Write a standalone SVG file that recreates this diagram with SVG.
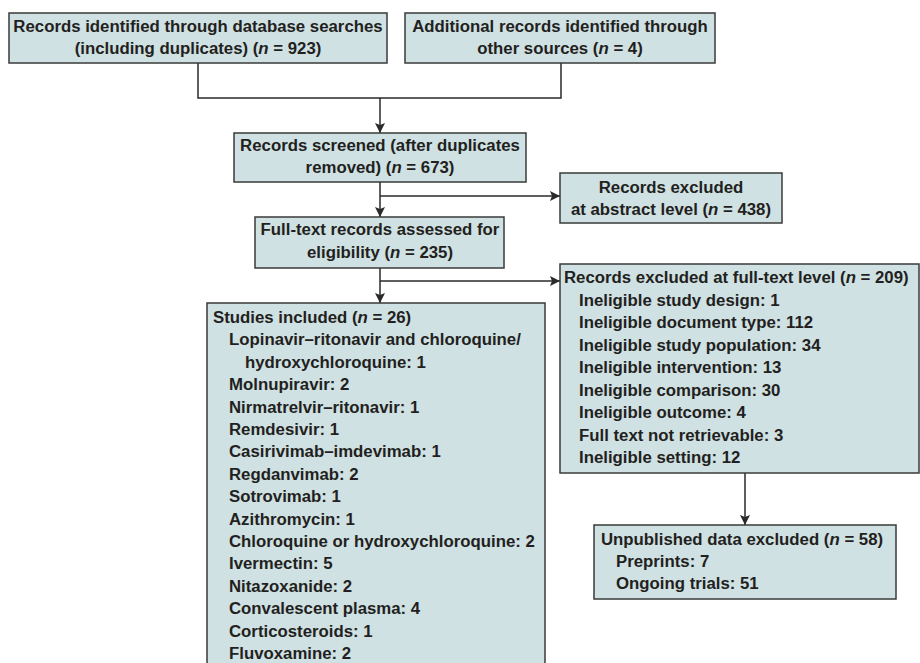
<svg xmlns="http://www.w3.org/2000/svg" width="920" height="663" viewBox="0 0 920 663">
<defs>
<style>
.box{fill:#cfe1e3;stroke:#3a3a3a;stroke-width:1.5}
.t{font-family:"Liberation Sans",Arial,sans-serif;font-weight:bold;font-size:16.8px;fill:#231f20}
.c{text-anchor:middle}
.i{font-style:italic}
.ln{fill:none;stroke:#2a2a2a;stroke-width:1.5}
</style>
<marker id="ah" viewBox="0 0 10 10" refX="10" refY="5" markerWidth="10" markerHeight="10" markerUnits="userSpaceOnUse" orient="auto">
<path d="M0,0 L10,5 L0,10 L2,5 z" fill="#2a2a2a"/>
</marker>
</defs>
<rect width="920" height="663" fill="#ffffff"/>
<g id="connectors">
<path class="ln" d="M198 63 V98 H561 V63"/>
<path class="ln" d="M380 98 V133" marker-end="url(#ah)"/>
<path class="ln" d="M380 182 V217" marker-end="url(#ah)"/>
<path class="ln" d="M380 196 H560" marker-end="url(#ah)"/>
<path class="ln" d="M380 268 V303" marker-end="url(#ah)"/>
<path class="ln" d="M380 281 H560" marker-end="url(#ah)"/>
<path class="ln" d="M745 473 V525" marker-end="url(#ah)"/>
</g>
<g id="n1">
<rect class="box" x="9" y="13" width="378" height="50"/>
<text class="t c" x="198" y="32">Records identified through database searches</text>
<text class="t c" x="198" y="54">(including duplicates) (<tspan class="i">n</tspan> = 923)</text>
</g>
<g id="n2">
<rect class="box" x="405" y="13" width="310" height="50"/>
<text class="t c" x="560" y="32">Additional records identified through</text>
<text class="t c" x="560" y="54">other sources (<tspan class="i">n</tspan> = 4)</text>
</g>
<g id="n3">
<rect class="box" x="234" y="133" width="292" height="49"/>
<text class="t c" x="380" y="151">Records screened (after duplicates</text>
<text class="t c" x="380" y="173">removed) (<tspan class="i">n</tspan> = 673)</text>
</g>
<g id="n4">
<rect class="box" x="560" y="173" width="222" height="50"/>
<text class="t c" x="671" y="193">Records excluded</text>
<text class="t c" x="671" y="215">at abstract level (<tspan class="i">n</tspan> = 438)</text>
</g>
<g id="n5">
<rect class="box" x="255" y="217" width="249" height="51"/>
<text class="t c" x="380" y="235">Full-text records assessed for</text>
<text class="t c" x="380" y="258">eligibility (<tspan class="i">n</tspan> = 235)</text>
</g>
<g id="n6">
<rect class="box" x="207" y="303" width="338" height="380"/>
<text class="t" x="213" y="323">Studies included (<tspan class="i">n</tspan> = 26)</text>
<text class="t" x="229" y="345.4">Lopinavir–ritonavir and chloroquine/</text>
<text class="t" x="245" y="367.8">hydroxychloroquine: 1</text>
<text class="t" x="229" y="390.2">Molnupiravir: 2</text>
<text class="t" x="229" y="412.6">Nirmatrelvir–ritonavir: 1</text>
<text class="t" x="229" y="435">Remdesivir: 1</text>
<text class="t" x="229" y="457.4">Casirivimab–imdevimab: 1</text>
<text class="t" x="229" y="479.8">Regdanvimab: 2</text>
<text class="t" x="229" y="502.2">Sotrovimab: 1</text>
<text class="t" x="229" y="524.6">Azithromycin: 1</text>
<text class="t" x="229" y="547">Chloroquine or hydroxychloroquine: 2</text>
<text class="t" x="229" y="569.4">Ivermectin: 5</text>
<text class="t" x="229" y="591.8">Nitazoxanide: 2</text>
<text class="t" x="229" y="614.2">Convalescent plasma: 4</text>
<text class="t" x="229" y="636.6">Corticosteroids: 1</text>
<text class="t" x="229" y="659">Fluvoxamine: 2</text>
</g>
<g id="n7">
<rect class="box" x="560" y="264" width="359" height="209"/>
<text class="t" x="564" y="283">Records excluded at full-text level (<tspan class="i">n</tspan> = 209)</text>
<text class="t" x="579" y="305.5">Ineligible study design: 1</text>
<text class="t" x="579" y="328">Ineligible document type: 112</text>
<text class="t" x="579" y="350.5">Ineligible study population: 34</text>
<text class="t" x="579" y="373">Ineligible intervention: 13</text>
<text class="t" x="579" y="395.5">Ineligible comparison: 30</text>
<text class="t" x="579" y="418">Ineligible outcome: 4</text>
<text class="t" x="579" y="440.5">Full text not retrievable: 3</text>
<text class="t" x="579" y="463">Ineligible setting: 12</text>
</g>
<g id="n8">
<rect class="box" x="594" y="525" width="302" height="74"/>
<text class="t" x="601" y="545">Unpublished data excluded (<tspan class="i">n</tspan> = 58)</text>
<text class="t" x="616" y="567">Preprints: 7</text>
<text class="t" x="616" y="589">Ongoing trials: 51</text>
</g>
</svg>
